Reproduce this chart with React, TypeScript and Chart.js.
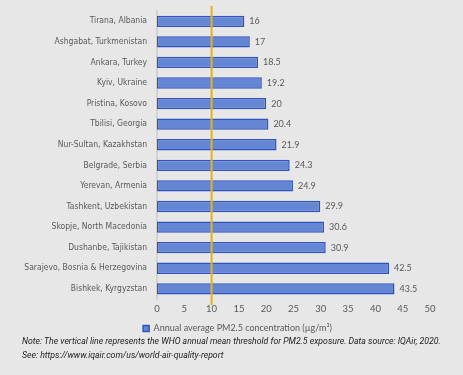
import React, { useEffect, useRef } from "react";
import { Chart, registerables } from "chart.js";

Chart.register(...registerables);

const cities = [
  "Tirana, Albania",
  "Ashgabat, Turkmenistan",
  "Ankara, Turkey",
  "Kyiv, Ukraine",
  "Pristina, Kosovo",
  "Tbilisi, Georgia",
  "Nur-Sultan, Kazakhstan",
  "Belgrade, Serbia",
  "Yerevan, Armenia",
  "Tashkent, Uzbekistan",
  "Skopje, North Macedonia",
  "Dushanbe, Tajikistan",
  "Sarajevo, Bosnia & Herzegovina",
  "Bishkek, Kyrgyzstan",
];
const pm25 = [16, 17, 18.5, 19.2, 20, 20.4, 21.9, 24.3, 24.9, 29.9, 30.6, 30.9, 42.5, 43.5];
const seriesLabel = "Annual average PM2.5 concentration (µg/m³)";
const whoThreshold = 10;
const xMin = 0;
const xMax = 50;
const xStep = 5;
const noteLine1 =
  "Note: The vertical line represents the WHO annual mean threshold for PM2.5 exposure. Data source: IQAir, 2020.";
const noteLine2 = "See: https://www.iqair.com/us/world-air-quality-report";

const FONT = "Lato, 'Open Sans', sans-serif";
const NARROW = "'DejaVu Sans Condensed', Lato, sans-serif";

export default function App() {
  const ref = useRef<HTMLCanvasElement | null>(null);
  useEffect(() => {
    document.body.style.margin = "0";
    const canvas = ref.current!;
    const thresholdPlugin = {
      id: "thresholdLine",
      afterDatasetsDraw(chart: any) {
        const { ctx, chartArea, scales } = chart;
        const x = scales.x.getPixelForValue(whoThreshold);
        ctx.save();
        ctx.strokeStyle = "#e3b21c";
        ctx.lineWidth = 2;
        ctx.beginPath();
        ctx.moveTo(x, chartArea.top - 5);
        ctx.lineTo(x, chartArea.bottom + 6);
        ctx.stroke();
        ctx.restore();
      },
    };
    const valueLabels = {
      id: "valueLabels",
      afterDatasetsDraw(chart: any) {
        const { ctx } = chart;
        const meta = chart.getDatasetMeta(0);
        ctx.save();
        ctx.font = `9px ${FONT}`;
        ctx.fillStyle = "#595959";
        ctx.textBaseline = "middle";
        ctx.textAlign = "left";
        meta.data.forEach((bar: any, i: number) => {
          ctx.fillText(String(pm25[i]), bar.x + 5, bar.y);
        });
        ctx.restore();
      },
    };
    const centerLegend = {
      id: "centerLegend",
      beforeDraw(chart: any) {
        if (chart.legend) {
          chart.legend.left = 12;
          chart.legend.right = chart.width;
        }
      },
    };
    const chart = new Chart(canvas, {
      type: "bar",
      data: {
        labels: cities,
        datasets: [
          {
            label: seriesLabel,
            data: pm25,
            backgroundColor: "#6585d5",
            borderColor: "#2f53bd",
            borderWidth: 1.5,
            borderSkipped: false,
            barPercentage: 0.55,
            categoryPercentage: 1,
          },
        ],
      },
      options: {
        indexAxis: "y",
        animation: false,
        responsive: false,
        maintainAspectRatio: false,
        layout: { padding: { top: 11, right: 33, left: 0, bottom: 0 } },
        scales: {
          x: {
            min: xMin,
            max: xMax,
            ticks: { stepSize: xStep, color: "#595959", font: { family: FONT, size: 9.5 }, padding: 4 },
            grid: { display: false, drawTicks: false },
            border: { display: false },
          },
          y: {
            ticks: { color: "#595959", font: { family: NARROW, size: 8.5 }, padding: 10 },
            grid: { display: false, drawTicks: false },
            border: { display: true, color: "#d2d2d2", width: 2 },
            afterFit(scale: any) {
              scale.width = 157;
              scale.paddingTop = 0;
              scale.paddingBottom = 0;
            },
          },
        },
        plugins: {
          legend: {
            position: "bottom",
            labels: {
              color: "#595959",
              font: { family: FONT, size: 9 },
              boxWidth: 6,
              boxHeight: 6,
              padding: 5.5,
            },
          },
          tooltip: { enabled: false },
        },
      },
      plugins: [thresholdPlugin, valueLabels, centerLegend],
    });
    return () => chart.destroy();
  }, []);
  return (
    <div style={{ width: 463, height: 375, background: "#e7e7e7", position: "relative", overflow: "hidden" }}>
      <canvas ref={ref} width={463} height={343} style={{ display: "block" }} />
      <div
        style={{
          position: "absolute",
          left: 22,
          top: 334,
          fontFamily: "Roboto, sans-serif",
          fontStyle: "italic",
          fontSize: 8.7,
          lineHeight: "14px",
          color: "#222",
          whiteSpace: "nowrap",
        }}
      >
        <div>{noteLine1}</div>
        <div>{noteLine2}</div>
      </div>
    </div>
  );
}
